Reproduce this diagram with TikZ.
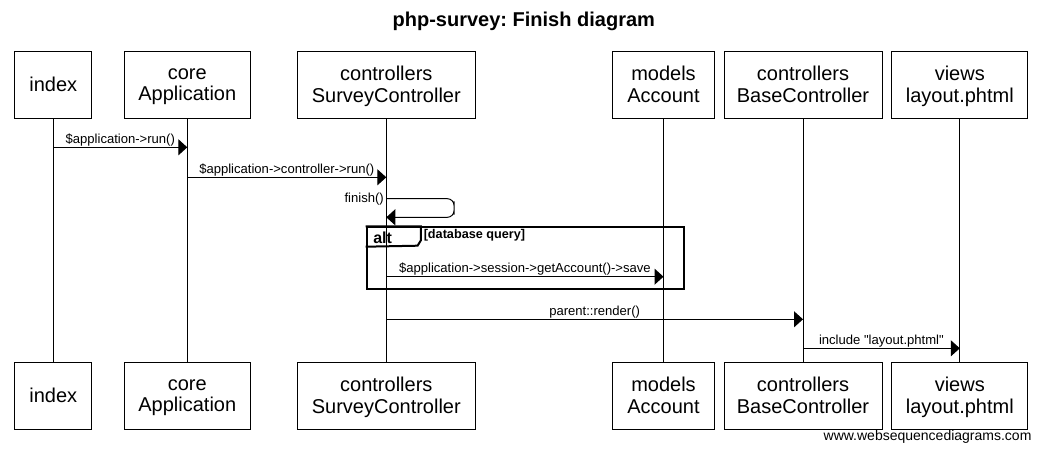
\documentclass[tikz,border=0pt]{standalone}
\usepackage{fontspec}
\setmainfont{Liberation Sans}[Ligatures=TeXOff]
\usetikzlibrary{arrows.meta, positioning}
\newcommand{\boxstrut}{\rule[-1pt]{0pt}{10.5pt}}
\tikzset{
    actornode/.style = {draw, rectangle, line width=0.75pt, inner sep=0pt, minimum height=50pt,
      align=center, text depth=1pt, font=\fontsize{15}{16}\selectfont\boxstrut},
    lifeline/.style = {line width=0.75pt},
    connect/.style = {black, line width=0.75pt, -{Triangle[length=6.75pt, width=12pt]}},
    msgtext/.style = {font=\fontsize{9.8}{11}\selectfont, inner sep=0.5pt},
    altframe/.style = {draw, rectangle, line width=1.5pt, inner sep=0pt},
    textnode/.style = {draw=none, fill=none, inner sep=0pt}
}
\frenchspacing

\begin{document}
\begin{tikzpicture}[x=0.75pt, y=-0.75pt]
\useasboundingbox (0,0) rectangle (1049,453);

\node [textnode, name=title, font=\bfseries\fontsize{15}{17}\selectfont] at (523.8,21) {php-survey: Finish diagram};

% participants, top row
\node [actornode, name=indexT, minimum width=57.75pt] at (53.3,85) {index};
\node [actornode, name=appT, minimum width=94.5pt] at (187.3,85) {core\\Application};
\node [actornode, name=surveyT, minimum width=133.5pt] at (386.3,85) {controllers\\SurveyController};
\node [actornode, name=accountT, minimum width=76.3pt] at (663.5,85) {models\\Account};
\node [actornode, name=baseT, minimum width=118.5pt] at (803,85) {controllers\\BaseController};
\node [actornode, name=viewsT, minimum width=102pt] at (959.8,85) {views\\layout.phtml};

% participants, bottom row
\node [actornode, name=indexB, minimum width=57.75pt] at (indexT |- 0,396) {index};
\node [actornode, name=appB, minimum width=94.5pt] at (appT |- 0,396) {core\\Application};
\node [actornode, name=surveyB, minimum width=133.5pt] at (surveyT |- 0,396) {controllers\\SurveyController};
\node [actornode, name=accountB, minimum width=76.3pt] at (accountT |- 0,396) {models\\Account};
\node [actornode, name=baseB, minimum width=118.5pt] at (baseT |- 0,396) {controllers\\BaseController};
\node [actornode, name=viewsB, minimum width=102pt] at (viewsT |- 0,396) {views\\layout.phtml};

% lifelines
\foreach \p in {index, app, survey, account, base, views}
    \draw [lifeline] (\p T) -- (\p B);

% messages
\draw [connect] (indexT |- 0,147.3) -- node[msgtext, above] {\$application->run()} (appT |- 0,147.3);
\draw [connect] (appT |- 0,177.3) -- node[msgtext, above] {\$application->controller->run()} (surveyT |- 0,177.3);
\coordinate (selfturn) at (454,208);
\draw [connect, rounded corners=5pt] (surveyT |- 0,198.7) node[msgtext, left, xshift=-1pt] {finish()}
    -| (selfturn) |- (surveyT |- 0,217.3);

% alt frame
\node [altframe, name=altbox, minimum width=238.2pt, minimum height=46.5pt] at (525.5,258.3) {};
\draw [line width=1.5pt] (altbox.north west) -| ++(55.2,14) -- ++(-3.3,5.4) -- (altbox.west |- 0,246.7);
\node [textnode, name=alttag, anchor=west, font=\bfseries\fontsize{12}{14}\selectfont] at (373,238) {alt};
\node [textnode, name=altguard, anchor=west, font=\bfseries\fontsize{9.5}{11}\selectfont] at (423.5,235.5) {[database query]};
\draw [connect] (surveyT |- 0,276.7) -- node[msgtext, above] {\$application->session->getAccount()->save} (accountT |- 0,276.7);

\draw [connect] (surveyT |- 0,319.3) -- node[msgtext, above] {parent::render()} (baseT |- 0,319.3);
\draw [connect] (baseT |- 0,348.3) -- node[msgtext, above] {include "layout.phtml"} (viewsT |- 0,348.3);

\node [textnode, name=credit, anchor=east, font=\fontsize{10.5}{12}\selectfont] at (1031.7,436.5) {www.websequencediagrams.com};
\end{tikzpicture}
\end{document}
